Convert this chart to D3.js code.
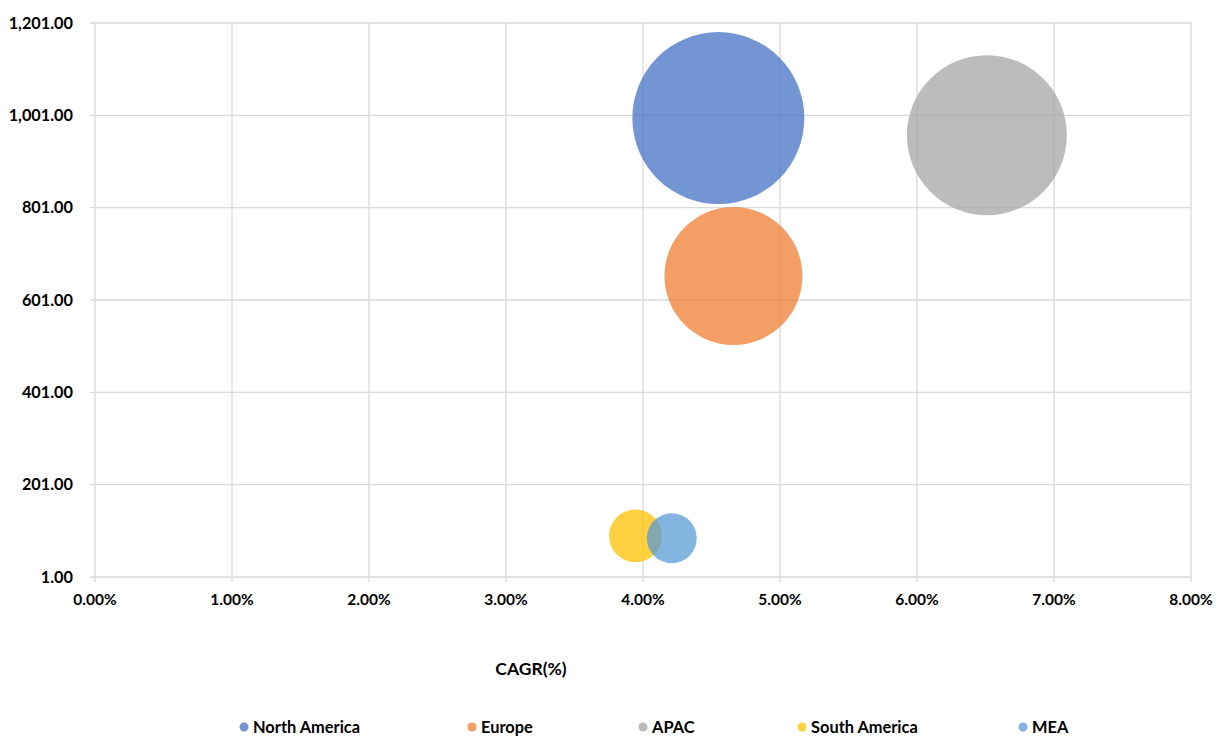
<!DOCTYPE html>
<html><head><meta charset="utf-8">
<script src="https://cdn.jsdelivr.net/npm/d3@7"></script>
<style>
html,body{margin:0;padding:0;background:#fff;}
text{font-family:Lato,"Open Sans",sans-serif;font-weight:bold;fill:#000;}
</style></head><body>
<svg id="chart" width="1223" height="738"></svg>
<script>
const regions = ["North America","Europe","APAC","South America","MEA"];
const cagr = [4.55, 4.66, 6.51, 3.945, 4.21];
const marketValue = [995, 653, 958, 90, 85];
const bubbleSize = [740, 476, 640, 70, 62.5];
const colors = ["#4472C4","#ED7D31","#A5A5A5","#FFC000","#5B9BD5"];
const yTicks = [1, 201, 401, 601, 801, 1001, 1201];
const xTicks = [0,1,2,3,4,5,6,7,8];
const xTitle = "CAGR(%)";

const svg = d3.select("#chart");
const pLeft = 95, pRight = 1191, pTop = 23, pBottom = 577;
const x = d3.scaleLinear().domain([0,8]).range([pLeft,pRight]);
const y = d3.scaleLinear().domain([1,1201]).range([pBottom,pTop]);
const r = d3.scaleSqrt().domain([0,740]).range([0,86]);

const grid = svg.append("g");
grid.selectAll("line.h").data(yTicks).join("line").attr("class","h")
  .attr("x1",pLeft-5).attr("x2",pRight).attr("y1",d=>y(d)).attr("y2",d=>y(d))
  .attr("stroke","#d9d9d9").attr("stroke-width",1.3);
grid.selectAll("line.v").data(xTicks).join("line").attr("class","v")
  .attr("y1",pTop).attr("y2",pBottom+5).attr("x1",d=>x(d)).attr("x2",d=>x(d))
  .attr("stroke","#d9d9d9").attr("stroke-width",1.3);

const fmtY = d3.format(",.2f");
svg.append("g").selectAll("text").data(yTicks).join("text")
  .attr("x",pLeft-22).attr("y",d=>y(d)).attr("dy","0.35em")
  .attr("text-anchor","end").style("font-size","16.3px")
  .text(d=>fmtY(d));
svg.append("g").selectAll("text").data(xTicks).join("text")
  .attr("x",d=>x(d)).attr("y",605)
  .attr("text-anchor","middle").style("font-size","15.5px")
  .text(d=>d.toFixed(2)+"%");

svg.append("text").attr("x",531).attr("y",675).attr("text-anchor","middle")
  .style("font-size","17.5px").text(xTitle);

const data = regions.map((n,i)=>({n, cx:cagr[i], cy:marketValue[i], s:bubbleSize[i], c:colors[i]}));
svg.append("g").selectAll("circle").data(data).join("circle")
  .attr("cx",d=>x(d.cx)).attr("cy",d=>y(d.cy)).attr("r",d=>r(d.s))
  .attr("fill",d=>d.c).attr("fill-opacity",0.75);

const legX = [244, 472, 643, 802, 1023];
const leg = svg.append("g").selectAll("g").data(data).join("g")
  .attr("transform",(d,i)=>`translate(${legX[i]},727)`);
leg.append("circle").attr("r",4.5).attr("fill",d=>d.c).attr("fill-opacity",0.75);
leg.append("text").attr("x",9).attr("y",6).style("font-size","16.4px").text(d=>d.n);
</script>
</body></html>
